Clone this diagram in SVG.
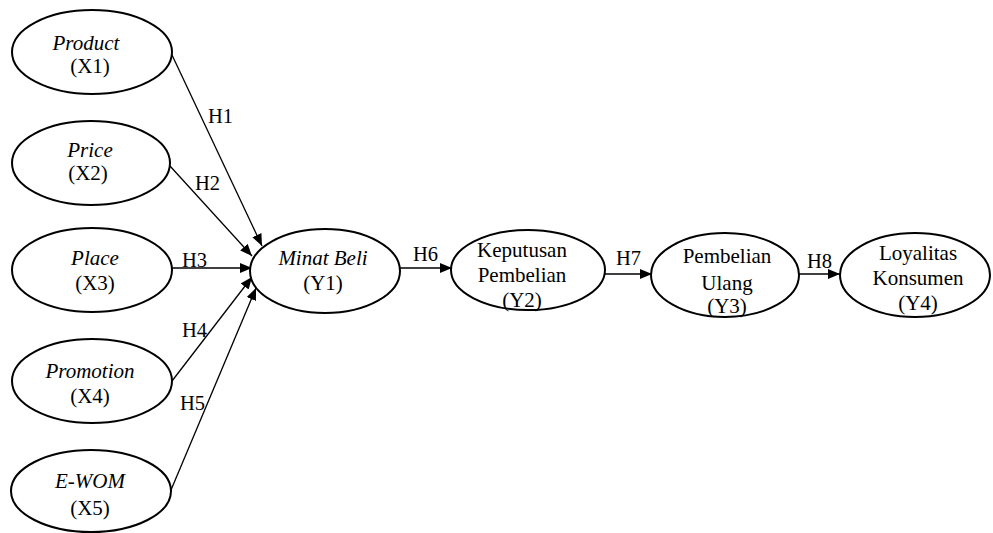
<svg xmlns="http://www.w3.org/2000/svg" width="993" height="533" viewBox="0 0 993 533">
<style>
.n{fill:#fff;stroke:#000;stroke-width:2}
text{font-family:'Liberation Serif','Times New Roman','DejaVu Serif',serif;font-size:21px;fill:#000}
.t{text-anchor:middle}
.i{font-style:italic}
.h{font-size:20.5px}
.c{stroke:#000;stroke-width:1.3;fill:none;marker-end:url(#a)}
</style>
<defs>
<marker id="a" markerUnits="userSpaceOnUse" markerWidth="13" markerHeight="11" refX="12" refY="5" orient="auto">
<path d="M0,0 L12,5 L0,10 z" fill="#000"/>
</marker>
</defs>
<rect width="993" height="533" fill="#fff"/>
<g id="connectors">
<line class="c" x1="172" y1="55" x2="262" y2="246"/>
<line class="c" x1="170" y1="166" x2="252" y2="256"/>
<line class="c" x1="172" y1="268" x2="252" y2="268"/>
<line class="c" x1="172" y1="381" x2="252" y2="277"/>
<line class="c" x1="171" y1="490" x2="256" y2="288"/>
<line class="c" x1="400" y1="268" x2="452" y2="268"/>
<line class="c" x1="605" y1="274" x2="652" y2="274"/>
<line class="c" x1="799" y1="274" x2="840" y2="274"/>
<text class="h" x="208" y="123">H1</text>
<text class="h" x="195" y="190">H2</text>
<text class="h" x="182" y="267">H3</text>
<text class="h" x="182" y="337">H4</text>
<text class="h" x="180" y="410">H5</text>
<text class="h" x="413" y="261">H6</text>
<text class="h" x="616" y="265">H7</text>
<text class="h" x="807" y="268">H8</text>
</g>
<g id="x1">
<ellipse class="n" cx="92" cy="52" rx="80" ry="42"/>
<text class="t i" x="86" y="50">Product</text>
<text class="t" x="90" y="73">(X1)</text>
</g>
<g id="x2">
<ellipse class="n" cx="91" cy="163" rx="79" ry="42"/>
<text class="t i" x="90" y="157">Price</text>
<text class="t" x="88" y="180">(X2)</text>
</g>
<g id="x3">
<ellipse class="n" cx="92" cy="270" rx="80" ry="42"/>
<text class="t i" x="95" y="265">Place</text>
<text class="t" x="95" y="290">(X3)</text>
</g>
<g id="x4">
<ellipse class="n" cx="92" cy="381" rx="80" ry="42"/>
<text class="t i" x="90" y="378">Promotion</text>
<text class="t" x="90" y="403">(X4)</text>
</g>
<g id="x5">
<ellipse class="n" cx="91" cy="491" rx="80" ry="41"/>
<text class="t i" x="90" y="488">E-WOM</text>
<text class="t" x="90" y="515">(X5)</text>
</g>
<g id="y1">
<ellipse class="n" cx="325" cy="271" rx="75" ry="42"/>
<text class="t i" x="323" y="265">Minat Beli</text>
<text class="t" x="323" y="290">(Y1)</text>
</g>
<g id="y2">
<ellipse class="n" cx="528" cy="270" rx="77" ry="40"/>
<text class="t" x="522" y="257">Keputusan</text>
<text class="t" x="522" y="282">Pembelian</text>
<text class="t" x="522" y="307">(Y2)</text>
</g>
<g id="y3">
<ellipse class="n" cx="725" cy="275" rx="74" ry="42"/>
<text class="t" x="727" y="263">Pembelian</text>
<text class="t" x="727" y="290">Ulang</text>
<text class="t" x="727" y="313">(Y3)</text>
</g>
<g id="y4">
<ellipse class="n" cx="915" cy="275" rx="75" ry="42"/>
<text class="t" x="918" y="260">Loyalitas</text>
<text class="t" x="918" y="285">Konsumen</text>
<text class="t" x="918" y="310">(Y4)</text>
</g>
</svg>
